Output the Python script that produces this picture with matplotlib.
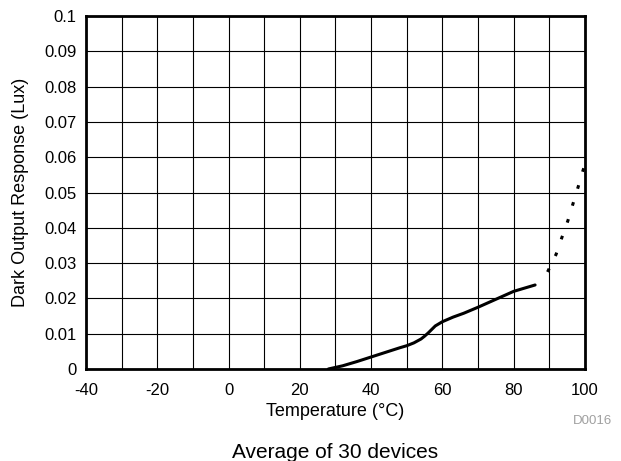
import numpy as np
import matplotlib.pyplot as plt

plt.rcParams["font.family"] = ["Liberation Sans", "DejaVu Sans"]
plt.rcParams["axes.unicode_minus"] = False

# measured curve (solid part)
temp_solid = [28, 32, 36, 40, 44, 48, 50, 52, 54, 55, 56, 57, 58, 60, 63, 66, 70, 74, 78, 80, 83, 86]
resp_solid = [0.0, 0.0009, 0.0021, 0.0034, 0.0047, 0.0060, 0.0066, 0.0074, 0.0085, 0.0093, 0.0102, 0.0112, 0.0122, 0.0134, 0.0147, 0.0158, 0.0175, 0.0193, 0.0211, 0.0220, 0.0229, 0.0238]
# dotted extension
temp_dot = [89.5, 91.9, 93.5, 95.2, 96.6, 98.0, 99.4, 100]
resp_dot = [0.0275, 0.0325, 0.0372, 0.0420, 0.0467, 0.0513, 0.0561, 0.0580]

x_ticks = [-40, -20, 0, 20, 40, 60, 80, 100]
y_ticks = [0, 0.01, 0.02, 0.03, 0.04, 0.05, 0.06, 0.07, 0.08, 0.09, 0.1]
y_labels = ["0", "0.01", "0.02", "0.03", "0.04", "0.05", "0.06", "0.07", "0.08", "0.09", "0.1"]

fig = plt.figure(figsize=(6.21, 4.61), dpi=100)
ax = fig.add_axes([0.1385, 0.1996, 0.8035, 0.7656])

ax.plot(temp_solid, resp_solid, color="black", lw=2.2, solid_capstyle="round")
ax.plot(temp_dot, resp_dot, color="black", lw=2.2, linestyle=(0, (1.2, 4.6)))

ax.set_xlim(-40, 100)
ax.set_ylim(0, 0.1)
ax.set_xticks(x_ticks)
ax.set_xticks(np.arange(-30, 100, 20), minor=True)
ax.set_yticks(y_ticks)
ax.set_yticklabels(y_labels)
ax.grid(True, which="both", color="black", lw=0.8)
ax.tick_params(which="both", length=0, labelsize=12)
ax.tick_params(axis="x", pad=10)
ax.tick_params(axis="y", pad=7)
for s in ax.spines.values():
    s.set_linewidth(2)
ax.set_axisbelow(True)

ax.set_xlabel("Temperature (\u00b0C)", fontsize=13, labelpad=4)
ax.set_ylabel("Dark Output Response (Lux)", fontsize=13, labelpad=11)

fig.text(593 / 621, 1 - 421 / 461, "D0016", color="#a0a0a0", fontsize=9.5, ha="center", va="center")
fig.text(335 / 621, 1 - 452 / 461, "Average of 30 devices", fontsize=15, ha="center", va="center")

fig.savefig("out.png", dpi=100)
